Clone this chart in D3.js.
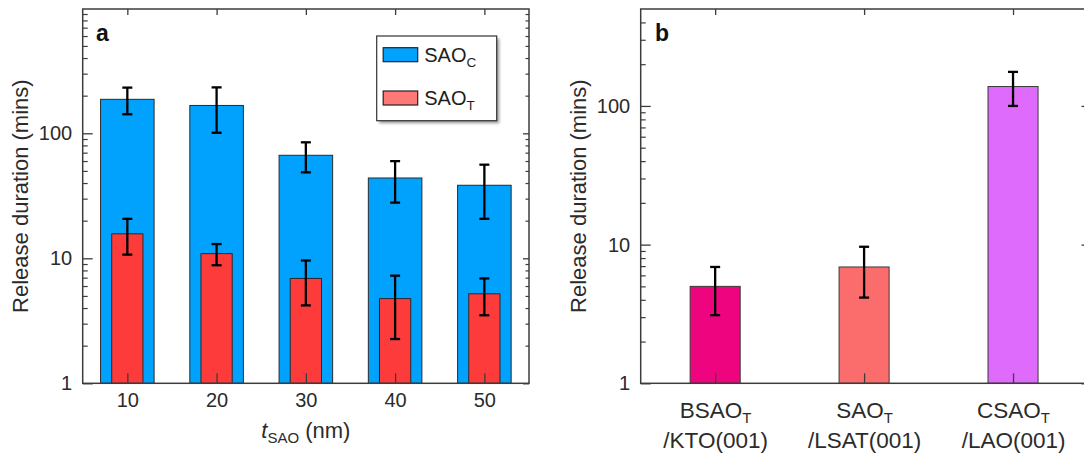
<!DOCTYPE html>
<html>
<head>
<meta charset="utf-8">
<script src="https://cdn.jsdelivr.net/npm/d3@7"></script>
<style>
  html, body { margin: 0; padding: 0; background: #fff; }
  svg { display: block; font-family: "Liberation Sans", Arial, sans-serif; }
  .tick text { fill: #2b2b2b; }
</style>
</head>
<body>
<svg id="chart" width="1084" height="458"></svg>
<script>
// ---- Panel a: release duration vs. SAO thickness ----
const thickness = [10, 20, 30, 40, 50];             // t_SAO (nm)
const saoCubic = [187, 167, 66.7, 43.9, 38.4];      // SAO_C release duration (mins)
const saoCubicErr = [45, 66, 18, 16, 17.7];
const saoTetra = [15.7, 10.9, 6.9, 4.76, 5.2];      // SAO_T release duration (mins)
const saoTetraErr = [5, 2.1, 2.7, 2.5, 1.7];
const yTicksA = [1, 10, 100];

// ---- Panel b: release duration for different sacrificial layers ----
const layerTop = ["BSAO", "SAO", "CSAO"];
const layerSub = ["T", "T", "T"];
const layerBottom = ["/KTO(001)", "/LSAT(001)", "/LAO(001)"];
const layerValue = [5.0, 6.9, 138];
const layerErr = [1.9, 2.75, 38];
const yTicksB = [1, 10, 100];

const colCubic = "#00a2fd";
const colTetra = "#fd3b3b";
const colTetraKey = "#ff7878";
const layerColors = ["#ef047f", "#fb6d6d", "#df6bfd"];
const textCol = "#2b2b2b";
const frameCol = "#3c3c3c";

const svg = d3.select("#chart");

const defs = svg.append("defs");
const shadow = defs.append("filter").attr("id", "legendShadow")
  .attr("x", "-10%").attr("y", "-10%").attr("width", "130%").attr("height", "130%");
shadow.append("feGaussianBlur").attr("stdDeviation", 1.6);

// minor tick values 2..9 per decade inside a log domain
function minorTicks(domain) {
  const out = [];
  for (let p = 1; p < domain[1]; p *= 10) {
    for (let m = 2; m <= 9; m++) {
      const v = m * p;
      if (v < domain[1]) out.push(v);
    }
  }
  return out;
}

function logAxes(g, x0, x1, y, majors) {
  const dom = y.domain();
  const minors = minorTicks(dom);
  // left: labelled majors + minors, ticks pointing inward
  g.append("g").attr("transform", `translate(${x0},0)`)
    .call(d3.axisLeft(y).tickValues(majors).tickSize(-10).tickPadding(10.5)
      .tickFormat(d3.format("d")))
    .call(s => s.select(".domain").remove())
    .call(s => s.selectAll("line").attr("stroke", frameCol).attr("stroke-width", 1.3))
    .call(s => s.selectAll("text").attr("font-size", 20).attr("fill", textCol));
  g.append("g").attr("transform", `translate(${x0},0)`)
    .call(d3.axisLeft(y).tickValues(minors).tickSize(-5).tickFormat(""))
    .call(s => s.select(".domain").remove())
    .call(s => s.selectAll("line").attr("stroke", frameCol).attr("stroke-width", 1.2));
  // right: short inward ticks, no labels
  g.append("g").attr("transform", `translate(${x1},0)`)
    .call(d3.axisRight(y).tickValues(majors).tickSize(-6).tickFormat(""))
    .call(s => s.select(".domain").remove())
    .call(s => s.selectAll("line").attr("stroke", frameCol).attr("stroke-width", 1.3));
  g.append("g").attr("transform", `translate(${x1},0)`)
    .call(d3.axisRight(y).tickValues(minors).tickSize(-3.5).tickFormat(""))
    .call(s => s.select(".domain").remove())
    .call(s => s.selectAll("line").attr("stroke", frameCol).attr("stroke-width", 1.2));
}

function errorBars(g, data, cap) {
  const eb = g.append("g").attr("stroke", "#000").attr("stroke-width", 2.3).attr("fill", "none");
  data.forEach(d => {
    eb.append("line").attr("x1", d.x).attr("x2", d.x).attr("y1", d.hi).attr("y2", d.lo);
    eb.append("line").attr("x1", d.x - cap).attr("x2", d.x + cap).attr("y1", d.hi).attr("y2", d.hi);
    eb.append("line").attr("x1", d.x - cap).attr("x2", d.x + cap).attr("y1", d.lo).attr("y2", d.lo);
  });
}

function yTitle(g, x, yMid) {
  g.append("text")
    .attr("transform", `translate(${x},${yMid}) rotate(-90)`)
    .attr("text-anchor", "middle")
    .attr("font-size", 22).attr("fill", textCol)
    .text("Release duration (mins)");
}

// ================= Panel a =================
{
  const x = d3.scaleLinear().domain([5, 55]).range([82.7, 529]);
  const y = d3.scaleLog().domain([1, 1000]).range([383.3, 8.3]);
  const g = svg.append("g");
  const [x0, x1] = x.range();
  const [yb, yt] = [y.range()[0], 9];
  const unit = x(1) - x(0);

  const rows = thickness.map((t, i) => ({
    t, c: saoCubic[i], ce: saoCubicErr[i], s: saoTetra[i], se: saoTetraErr[i]
  }));

  // SAO_C bars (wide) behind SAO_T bars (narrow)
  g.append("g").selectAll("rect").data(rows).join("rect")
    .attr("x", d => x(d.t) - 3 * unit).attr("width", 6 * unit)
    .attr("y", d => y(d.c)).attr("height", d => y(1) - y(d.c))
    .attr("fill", colCubic).attr("stroke", "#2a2a2a").attr("stroke-width", 1);
  errorBars(g, rows.map(d => ({ x: x(d.t), hi: y(d.c + d.ce), lo: y(d.c - d.ce) })), 5);

  g.append("g").selectAll("rect").data(rows).join("rect")
    .attr("x", d => x(d.t) - 1.75 * unit).attr("width", 3.5 * unit)
    .attr("y", d => y(d.s)).attr("height", d => y(1) - y(d.s))
    .attr("fill", colTetra).attr("stroke", "#2a2a2a").attr("stroke-width", 1);
  errorBars(g, rows.map(d => ({ x: x(d.t), hi: y(d.s + d.se), lo: y(d.s - d.se) })), 5);

  logAxes(g, x0, x1, y, yTicksA);

  // bottom axis: inward ticks at each thickness, labels below
  g.append("g").attr("transform", `translate(0,${yb})`)
    .call(d3.axisBottom(x).tickValues(thickness).tickSize(-10).tickPadding(10))
    .call(s => s.select(".domain").remove())
    .call(s => s.selectAll("line").attr("stroke", frameCol).attr("stroke-width", 1.3))
    .call(s => s.selectAll("text").attr("font-size", 20).attr("fill", textCol));
  g.append("g").attr("transform", `translate(0,${yt})`)
    .call(d3.axisTop(x).tickValues(thickness).tickSize(-6).tickFormat(""))
    .call(s => s.select(".domain").remove())
    .call(s => s.selectAll("line").attr("stroke", frameCol).attr("stroke-width", 1.3));

  g.append("rect").attr("x", x0).attr("y", yt).attr("width", x1 - x0).attr("height", yb - yt)
    .attr("fill", "none").attr("stroke", frameCol).attr("stroke-width", 1.5);

  // panel letter
  g.append("text").attr("x", 96).attr("y", 40.7)
    .attr("font-size", 23).attr("font-weight", "bold").attr("fill", "#111").text("a");

  // x title: t_SAO (nm)
  const xt = g.append("text").attr("x", (x0 + x1) / 2).attr("y", 438)
    .attr("text-anchor", "middle").attr("font-size", 22).attr("fill", textCol);
  xt.append("tspan").attr("font-style", "italic").text("t");
  xt.append("tspan").attr("font-size", 15).attr("dy", 5).text("SAO");
  xt.append("tspan").attr("dy", -5).text(" (nm)");

  yTitle(g, 27.5, (yb + yt) / 2);

  // legend
  const lg = g.append("g").attr("transform", "translate(376.7,36)");
  lg.append("rect").attr("x", 2.5).attr("y", 2.5).attr("width", 120).attr("height", 84.7)
    .attr("fill", "#9a9a9a").attr("filter", "url(#legendShadow)");
  lg.append("rect").attr("width", 120).attr("height", 84.7)
    .attr("fill", "#fff").attr("stroke", "#333").attr("stroke-width", 1.2);
  const keys = [
    { fill: colCubic, sub: "C", y: 11.7 },
    { fill: colTetraKey, sub: "T", y: 55 }
  ];
  keys.forEach(k => {
    lg.append("rect").attr("x", 6.5).attr("y", k.y).attr("width", 34.5).attr("height", 14)
      .attr("fill", k.fill).attr("stroke", "#222").attr("stroke-width", 1.2);
    const t = lg.append("text").attr("x", 47.5).attr("y", k.y + 14)
      .attr("font-size", 20).attr("fill", "#1e1e1e");
    t.append("tspan").text("SAO");
    t.append("tspan").attr("font-size", 13.5).attr("dy", 5).text(k.sub);
  });
}

// ================= Panel b =================
{
  const x = d3.scalePoint().domain(layerTop).range([640.7, 1087.5]).padding(0.5);
  const y = d3.scaleLog().domain([1, 500]).range([383.3, 9]);
  const g = svg.append("g");
  const [x0, x1] = x.range();
  const [yb, yt] = y.range();
  const barW = x.step() * 0.336;

  const rows = layerTop.map((n, i) => ({ n, v: layerValue[i], e: layerErr[i], c: layerColors[i] }));

  g.append("g").selectAll("rect").data(rows).join("rect")
    .attr("x", d => x(d.n) - barW / 2).attr("width", barW)
    .attr("y", d => y(d.v)).attr("height", d => y(1) - y(d.v))
    .attr("fill", d => d.c).attr("stroke", "#3a3a3a").attr("stroke-width", 1);
  errorBars(g, rows.map(d => ({ x: x(d.n), hi: y(d.v + d.e), lo: y(d.v - d.e) })), 5);

  logAxes(g, x0, x1, y, yTicksB);

  const bottom = g.append("g").attr("transform", `translate(0,${yb})`)
    .call(d3.axisBottom(x).tickSize(-10).tickFormat(""))
    .call(s => s.select(".domain").remove())
    .call(s => s.selectAll("line").attr("stroke", frameCol).attr("stroke-width", 1.3));
  // two-line category labels with subscript
  bottom.selectAll(".tick").each(function (d) {
    const i = layerTop.indexOf(d);
    const tk = d3.select(this);
    const l1 = tk.append("text").attr("y", 35).attr("text-anchor", "middle")
      .attr("font-size", 22.5).attr("fill", textCol);
    l1.append("tspan").text(layerTop[i]);
    l1.append("tspan").attr("font-size", 15).attr("dy", 5).text(layerSub[i]);
    tk.append("text").attr("y", 64.5).attr("text-anchor", "middle")
      .attr("font-size", 22.5).attr("fill", textCol).text(layerBottom[i]);
  });
  g.append("g").attr("transform", `translate(0,${yt})`)
    .call(d3.axisTop(x).tickSize(-6).tickFormat(""))
    .call(s => s.select(".domain").remove())
    .call(s => s.selectAll("line").attr("stroke", frameCol).attr("stroke-width", 1.3));

  g.append("rect").attr("x", x0).attr("y", yt).attr("width", x1 - x0).attr("height", yb - yt)
    .attr("fill", "none").attr("stroke", frameCol).attr("stroke-width", 1.5);

  g.append("text").attr("x", 655).attr("y", 40.7)
    .attr("font-size", 23).attr("font-weight", "bold").attr("fill", "#111").text("b");

  yTitle(g, 585.5, (yb + yt) / 2);
}
</script>
</body>
</html>
